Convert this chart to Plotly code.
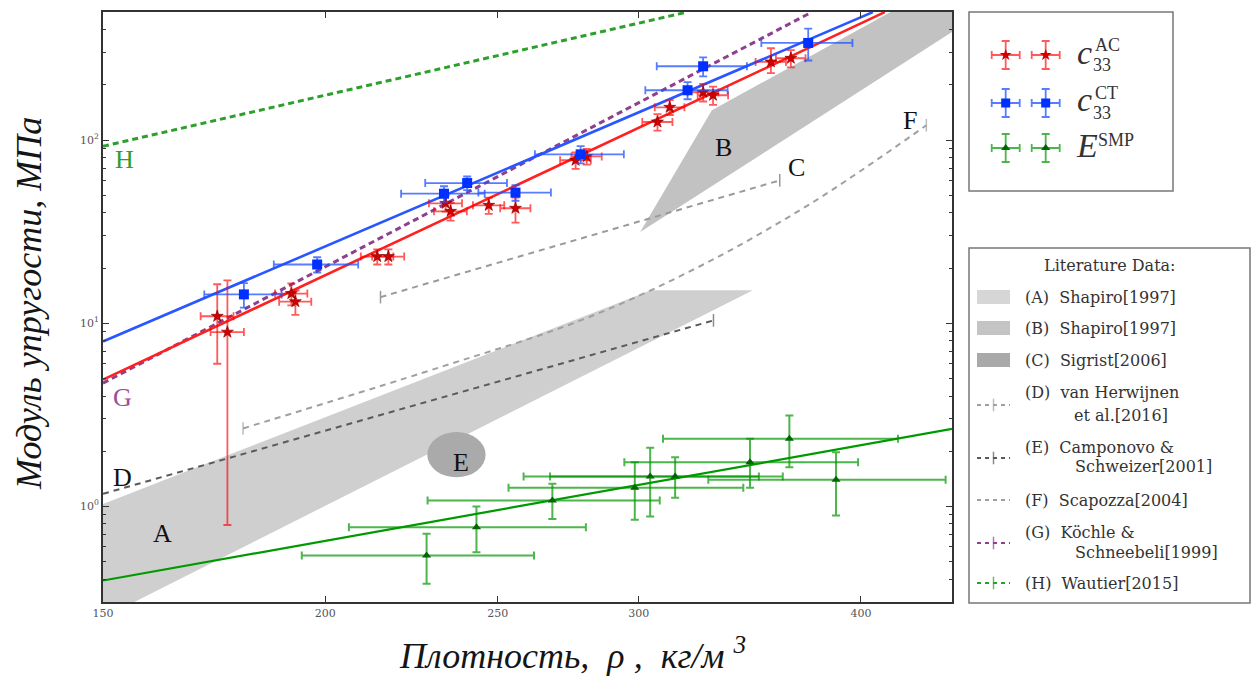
import math
import plotly.graph_objects as go

# ---------------- axis ranges ----------------
X_MIN, X_MAX = 150, 450
Y_MIN, Y_MAX = 0.3, 500

# ---------------- measured data ----------------
# c33 AC (red stars)
ac_rho = [173.9, 176.2, 191.4, 192.4, 213.9, 217.0, 233.7, 235.2, 247.1, 255.8,
          276.5, 280.5, 307.4, 312.3, 326.1, 330.3, 356.0, 365.3]
ac_E = [10.9, 8.93, 14.5, 13.1, 23.1, 23.1, 45.1, 40.8, 44.0, 42.4,
        77.5, 81.3, 125.4, 150.9, 182.3, 175.5, 266.9, 279.5]
ac_rho_err = [3.7, 3.8, 4.0, 4.0, 4.5, 4.5, 5.0, 5.0, 5.0, 5.0,
              5.5, 5.5, 6.0, 6.0, 6.5, 6.5, 7.0, 7.0]
ac_E_err_plus = [5.4, 8.2, 2.0, 2.0, 2.2, 2.2, 4.5, 4.5, 4.5, 6.0,
                 8.0, 8.0, 13.0, 14.0, 20.0, 20.0, 50.0, 30.0]
ac_E_err_minus = [4.9, 8.14, 2.0, 2.0, 2.2, 2.2, 4.5, 4.5, 4.5, 7.0,
                  8.0, 8.0, 13.0, 14.0, 20.0, 20.0, 35.0, 30.0]

# c33 CT (blue squares)
ct_rho = [180.0, 197.9, 233.2, 240.3, 255.8, 278.3, 319.6, 326.1, 373.6]
ct_E = [14.35, 20.9, 50.9, 58.2, 51.6, 83.5, 186.9, 252.7, 338.8]
ct_rho_err = [9.0, 10.8, 12.6, 12.7, 12.0, 16.0, 17.0, 19.0, 22.0]
ct_E_err = [2.2, 2.0, 5.0, 5.0, 5.0, 9.0, 20.0, 30.0, 67.0]

# E SMP (green triangles)
smp_rho = [228.0, 243.2, 268.3, 298.5, 304.5, 314.5, 346.5, 364.6, 387.3]
smp_E = [0.538, 0.768, 1.074, 1.26, 1.453, 1.453, 1.74, 2.335, 1.394]
smp_rho_err = [34, 37, 40, 45, 46, 47, 52, 55, 59]
smp_E_err_plus = [0.169, 0.228, 0.252, 0.479, 0.633, 0.40, 0.594, 0.795, 0.579]
smp_E_err_minus = [0.161, 0.207, 0.221, 0.417, 0.575, 0.34, 0.48, 0.70, 0.504]

# fitted lines (end points)
ac_fit_rho, ac_fit_E = [150, 412.5], [4.91, 499]
ct_fit_rho, ct_fit_E = [150, 406.2], [7.94, 499]
smp_fit_rho, smp_fit_E = [150, 450], [0.393, 2.643]

# literature data
G_rho, G_E = [150, 375.3], [4.70, 499]                 # Köchle & Schneebeli
H_rho, H_E = [150, 319.2], [92.4, 499]                 # Wautier
D_rho, D_E = [150, 330.5], [1.169, 10.35]              # dark dashed (D)
C_rho, C_E = [214.8, 360.1], [13.87, 60.2]             # light dashed (C)
F_rho = [179.8, 232.1, 278.3, 323.0, 375.0, 435.3]     # light dashed (F)
F_E = [2.66, 5.75, 10.35, 19.9, 45.1, 120.3]
A_rho, A_E = [150, 304.8, 347.8, 150], [1.03, 15.1, 15.1, 0.246]
B_rho, B_E = [300.6, 329.8, 415.6, 450, 450], [31.4, 145.3, 500, 500, 389]
E_rho, E_E = [228.2, 246.1], [1.44, 2.54]              # ellipse extent

x_ticks = [150, 200, 250, 300, 400]
y_ticks = [1, 10, 100]
y_ticktext = ["10<sup>0</sup>", "10<sup>1</sup>", "10<sup>2</sup>"]

region_labels = ["H", "G", "D", "A", "E", "B", "C", "F"]
label_rho = [154.3, 153.9, 153.9, 162.0, 238.3, 335.0, 367.8, 426.3]
label_E = [78.4, 3.93, 1.435, 0.709, 1.733, 91.2, 70.9, 128.2]
label_colors = ["#2ca02c", "#9a4d9a", "#111", "#111", "#111", "#111", "#111", "#111"]

# ---------------- layout geometry ----------------
W, H = 1259, 681
ML, MR, MT, MB = 103, 5, 12, 79
PW = W - ML - MR
PH = H - MT - MB
X_DOM_END = (952 - ML) / PW


def px(x):
    return (x - ML) / PW


def py(y):
    return (H - MB - y) / PH


def xdom(v):
    return (math.log10(v) - math.log10(X_MIN)) / (math.log10(X_MAX) - math.log10(X_MIN))


def ydom(v):
    return (math.log10(v) - math.log10(Y_MIN)) / (math.log10(Y_MAX) - math.log10(Y_MIN))


def note(x, y, text, font, xanchor="center", **kw):
    d = dict(x=px(x), y=py(y), xref="paper", yref="paper", text=text, showarrow=False,
             font=font, xanchor=xanchor, yanchor="middle")
    d.update(kw)
    return d


fig = go.Figure()

# bands
fig.add_trace(go.Scatter(x=A_rho, y=A_E, fill="toself", fillcolor="#cfcfcf",
                         mode="lines", line=dict(width=0, color="rgba(0,0,0,0)"),
                         hoverinfo="skip", showlegend=False))
fig.add_trace(go.Scatter(x=B_rho, y=B_E, fill="toself", fillcolor="#c2c2c2",
                         mode="lines", line=dict(width=0, color="rgba(0,0,0,0)"),
                         hoverinfo="skip", showlegend=False))

# dashed literature lines with end caps
fig.add_trace(go.Scatter(x=D_rho, y=D_E, mode="lines+markers",
                         line=dict(color="#5a5a5a", width=2, dash="6px,5px"),
                         marker=dict(symbol="line-ns-open", size=[0, 9],
                                     line=dict(color="#5a5a5a", width=1.5)),
                         showlegend=False))
fig.add_trace(go.Scatter(x=C_rho, y=C_E, mode="lines+markers",
                         line=dict(color="#9a9a9a", width=2, dash="6px,5px"),
                         marker=dict(symbol="line-ns-open", size=9,
                                     line=dict(color="#9a9a9a", width=1.5)),
                         showlegend=False))
fig.add_trace(go.Scatter(x=F_rho, y=F_E, mode="lines+markers", line_shape="spline",
                         line=dict(color="#a0a0a0", width=2, dash="6px,5px"),
                         marker=dict(symbol="line-ns-open", size=[9, 0, 0, 0, 0, 9],
                                     line=dict(color="#a0a0a0", width=1.5)),
                         showlegend=False))

# dotted literature lines
fig.add_trace(go.Scatter(x=H_rho, y=H_E, mode="lines",
                         line=dict(color="#2ca02c", width=3, dash="6px,4px"),
                         showlegend=False))
fig.add_trace(go.Scatter(x=G_rho, y=G_E, mode="lines",
                         line=dict(color="#8e3f8e", width=3, dash="6px,4px"),
                         showlegend=False))

# fits
fig.add_trace(go.Scatter(x=smp_fit_rho, y=smp_fit_E, mode="lines",
                         line=dict(color="#009a00", width=2.2), showlegend=False))
fig.add_trace(go.Scatter(x=ct_fit_rho, y=ct_fit_E, mode="lines",
                         line=dict(color="#2a56ff", width=2.6), showlegend=False))
fig.add_trace(go.Scatter(x=ac_fit_rho, y=ac_fit_E, mode="lines",
                         line=dict(color="#ff2020", width=2.6), showlegend=False))

# measured points
fig.add_trace(go.Scatter(
    x=smp_rho, y=smp_E, mode="markers",
    marker=dict(symbol="triangle-up", size=8, color="#006400"),
    error_x=dict(type="data", array=smp_rho_err, color="rgba(0,150,0,0.7)", thickness=2, width=4),
    error_y=dict(type="data", array=smp_E_err_plus, arrayminus=smp_E_err_minus,
                 color="rgba(0,150,0,0.7)", thickness=2, width=4),
    showlegend=False))
fig.add_trace(go.Scatter(
    x=ac_rho, y=ac_E, mode="markers",
    marker=dict(symbol="star", size=9, color="#d00000", line=dict(color="#800000", width=0.6)),
    error_x=dict(type="data", array=ac_rho_err, color="rgba(255,0,0,0.65)", thickness=1.8, width=4),
    error_y=dict(type="data", array=ac_E_err_plus, arrayminus=ac_E_err_minus,
                 color="rgba(255,0,0,0.65)", thickness=1.8, width=4),
    showlegend=False))
fig.add_trace(go.Scatter(
    x=ct_rho, y=ct_E, mode="markers",
    marker=dict(symbol="square", size=10, color="#0030ff"),
    error_x=dict(type="data", array=ct_rho_err, color="rgba(30,80,255,0.75)", thickness=1.8, width=4),
    error_y=dict(type="data", array=ct_E_err, color="rgba(30,80,255,0.75)", thickness=1.8, width=4),
    showlegend=False))

shapes = []
annotations = []

# ellipse E
shapes.append(dict(type="circle", xref="x domain", yref="y domain",
                   x0=xdom(E_rho[0]), x1=xdom(E_rho[1]), y0=ydom(E_E[0]), y1=ydom(E_E[1]),
                   fillcolor="#aaaaaa", line=dict(width=0), layer="above"))

# region labels
for t, xr, yr, c in zip(region_labels, label_rho, label_E, label_colors):
    annotations.append(dict(x=math.log10(xr), y=math.log10(yr), xref="x", yref="y",
                            text=t, showarrow=False, xanchor="center", yanchor="middle",
                            font=dict(family="Liberation Serif", size=26, color=c)))

# axis titles
title_font = dict(family="Liberation Serif", size=36, color="#151515")
annotations.append(note(572, 653, "<i>Плотность,  ρ ,  кг/м </i><sup><i>3</i></sup>", title_font))
annotations.append(note(29, 304, "<i>Модуль упругости, МПа</i>", title_font, textangle=-90))

# ---------------- legend 1 (measured) ----------------
shapes.append(dict(type="rect", xref="paper", yref="paper",
                   x0=px(969), x1=px(1173), y0=py(191), y1=py(12),
                   line=dict(color="#777", width=1.5), fillcolor="rgba(0,0,0,0)"))
leg_y = [55, 103, 148]
leg_cols = [("#d00000", "rgba(255,0,0,0.65)", "star", 9),
            ("#0030ff", "rgba(30,80,255,0.75)", "square", 9),
            ("#006400", "rgba(0,150,0,0.7)", "triangle-up", 8)]
for yy, (mc, ec, sym, sz) in zip(leg_y, leg_cols):
    fig.add_trace(go.Scatter(
        x=[1005.7, 1045.7], y=[yy, yy], xaxis="x2", yaxis="y2", mode="markers",
        marker=dict(symbol=sym, size=sz, color=mc),
        error_x=dict(type="constant", value=14, color=ec, thickness=1.8, width=4),
        error_y=dict(type="constant", value=14, color=ec, thickness=1.8, width=4),
        showlegend=False, hoverinfo="skip"))

sym_font = dict(family="Liberation Serif", size=34, color="#333")
small_font = dict(family="Liberation Serif", size=18, color="#333")
for yy, sup in [(55, "AC"), (103, "CT")]:
    annotations.append(note(1084, yy - 3, "<i>c</i>", sym_font))
    annotations.append(note(1091, yy + 10, "33", small_font, xanchor="left"))
    annotations.append(note(1093, yy - 10, sup, small_font, xanchor="left"))
annotations.append(note(1087, 145, "<i>E</i>", sym_font))
annotations.append(note(1096, 140, "SMP", small_font, xanchor="left"))

# ---------------- legend 2 (literature) ----------------
shapes.append(dict(type="rect", xref="paper", yref="paper",
                   x0=px(969), x1=px(1250), y0=py(603), y1=py(248),
                   line=dict(color="#777", width=1.5), fillcolor="rgba(0,0,0,0)"))
lit_font = dict(family="DejaVu Serif", size=16, color="#333")
annotations.append(note(1110, 265, "Literature Data:", lit_font))
patch_info = [(297, "#d6d6d6", "(A)\u00a0\u00a0Shapiro[1997]"),
              (328, "#c4c4c4", "(B)\u00a0\u00a0Shapiro[1997]"),
              (360, "#a9a9a9", "(C)\u00a0\u00a0Sigrist[2006]")]
for yy, col, txt in patch_info:
    shapes.append(dict(type="rect", xref="paper", yref="paper",
                       x0=px(977), x1=px(1010), y0=py(yy + 7), y1=py(yy - 7),
                       line=dict(width=0), fillcolor=col))
    annotations.append(note(1023, yy, txt, lit_font, xanchor="left"))

line_items = [
    (405, "#a0a0a0", True, [(393, 1023, "(D)\u00a0\u00a0van Herwijnen"), (415, 1072, "et al.[2016]")]),
    (458, "#5a5a5a", True, [(447, 1023, "(E)\u00a0\u00a0Camponovo &"), (467, 1073, "Schweizer[2001]")]),
    (500, "#a0a0a0", False, [(500, 1023, "(F)\u00a0\u00a0Scapozza[2004]")]),
    (543, "#8e3f8e", True, [(532, 1023, "(G)\u00a0\u00a0Köchle &"), (552, 1073, "Schneebeli[1999]")]),
    (583, "#2ca02c", True, [(583, 1023, "(H)\u00a0\u00a0Wautier[2015]")]),
]
for yy, col, cap, texts in line_items:
    fig.add_trace(go.Scatter(x=[977, 993.5, 1010], y=[yy, yy, yy], xaxis="x2", yaxis="y2",
                             mode="lines+markers",
                             line=dict(color=col, width=2, dash="4px,4px"),
                             marker=dict(symbol="line-ns-open", size=[0, 9 if cap else 0, 0],
                                         line=dict(color=col, width=1.5)),
                             showlegend=False, hoverinfo="skip"))
    for ty, tx, txt in texts:
        annotations.append(note(tx, ty, txt, lit_font, xanchor="left"))

axis_common = dict(type="log", showgrid=False, zeroline=False, showline=True,
                   linecolor="#333", linewidth=1.6, mirror="allticks",
                   ticks="inside", ticklen=6, tickwidth=1.2, tickcolor="#333",
                   tickfont=dict(family="DejaVu Serif", size=11, color="#555"))

minor_y = [0.4, 0.5, 0.6, 0.7, 0.8, 0.9, 2, 3, 4, 5, 6, 7, 8, 9,
           20, 30, 40, 50, 60, 70, 80, 90, 200, 300, 400]

fig.update_layout(
    width=W, height=H,
    margin=dict(l=ML, r=MR, t=MT, b=MB),
    paper_bgcolor="white", plot_bgcolor="white",
    xaxis=dict(range=[math.log10(X_MIN), math.log10(X_MAX)], domain=[0, X_DOM_END],
               tickvals=x_ticks, ticktext=[str(v) for v in x_ticks], **axis_common),
    yaxis=dict(range=[math.log10(Y_MIN), math.log10(Y_MAX)],
               tickvals=y_ticks, ticktext=y_ticktext,
               minor=dict(tickvals=minor_y, ticks="inside", ticklen=3, tickcolor="#333"),
               **axis_common),
    xaxis2=dict(domain=[px(960), 1], range=[960, W - MR], visible=False, anchor="y2",
                fixedrange=True),
    yaxis2=dict(domain=[0, 1], range=[H - MB, MT], visible=False, anchor="x2",
                fixedrange=True),
    shapes=shapes,
    annotations=annotations,
    showlegend=False,
)

fig.write_html("out.html")
